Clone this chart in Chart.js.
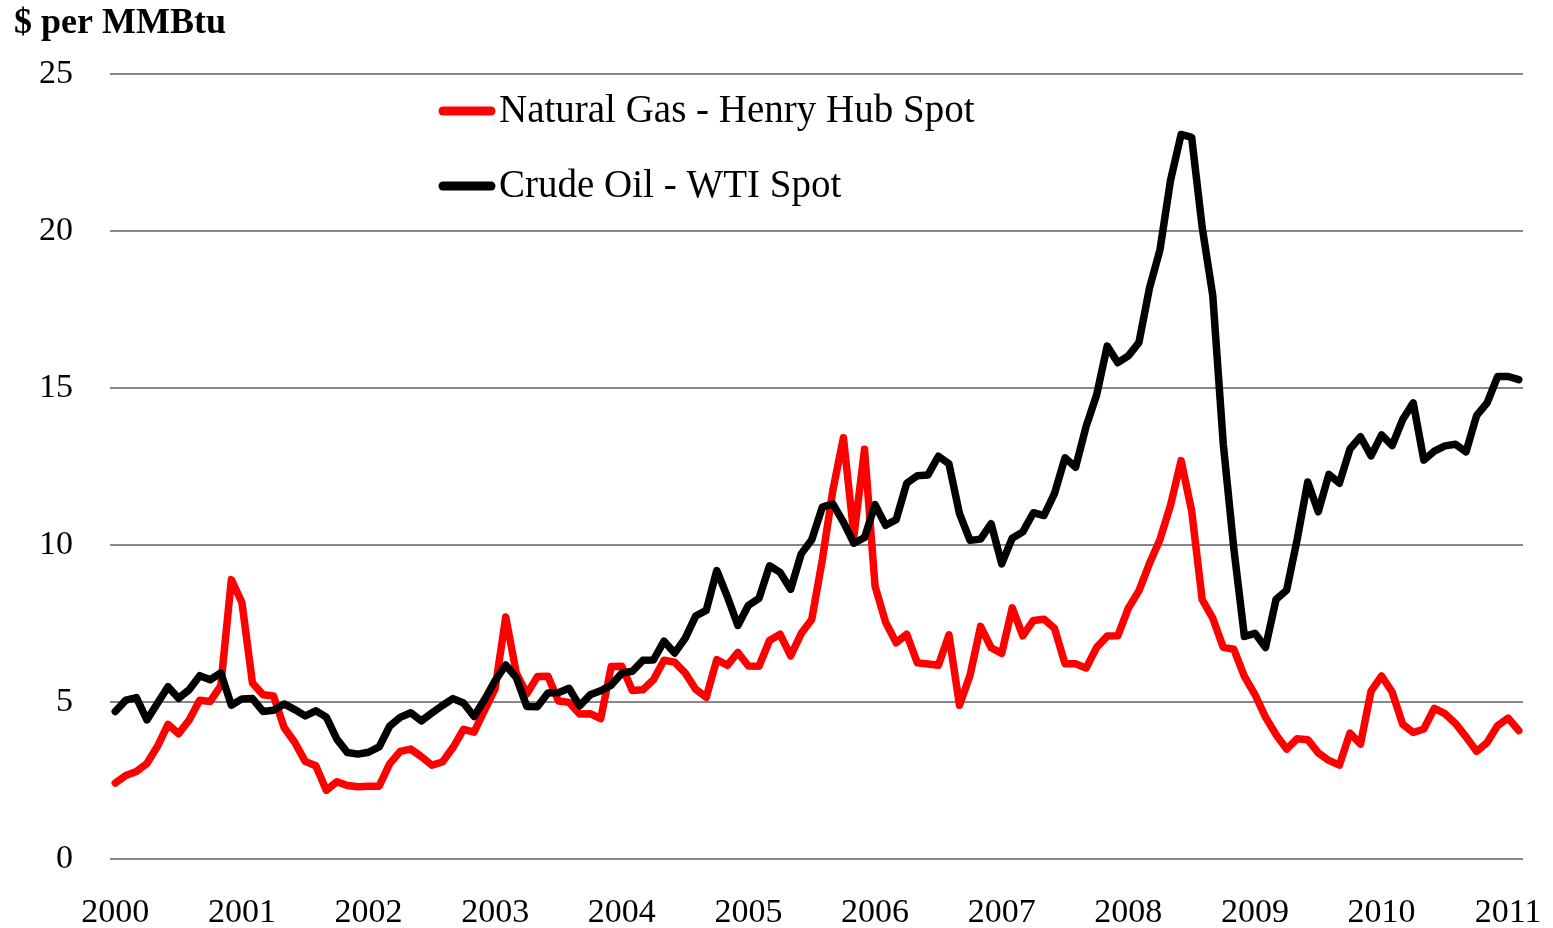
<!DOCTYPE html>
<html>
<head>
<meta charset="utf-8">
<title>Natural gas vs crude oil, $ per MMBtu</title>
<script src="https://cdn.jsdelivr.net/npm/chart.js@4.4.0/dist/chart.umd.min.js"></script>
<style>
  html, body { margin: 0; padding: 0; background: #fff; }
  #wrap { width: 1553px; height: 928px; }
</style>
</head>
<body>
<div id="wrap"><canvas id="priceChart" width="1553" height="928"></canvas></div>
<script>
// year labels on the x axis (one tick every 12 months)
const yearLabels = ['2000', '2001', '2002', '2003', '2004', '2005', '2006', '2007', '2008', '2009', '2010', '2011'];

// monthly values, Jan 2000 .. Feb 2011, $ per MMBtu
const gasPrices = [
  2.42, 2.66, 2.79, 3.04, 3.59, 4.29, 3.99, 4.43, 5.06, 5.02, 5.52, 8.90,
  8.17, 5.61, 5.23, 5.19, 4.19, 3.72, 3.11, 2.97, 2.19, 2.46, 2.34, 2.30,
  2.32, 2.32, 3.03, 3.43, 3.50, 3.26, 2.99, 3.09, 3.55, 4.13, 4.04, 4.74,
  5.43, 7.71, 5.93, 5.26, 5.81, 5.82, 5.03, 4.99, 4.62, 4.63, 4.47, 6.13,
  6.14, 5.37, 5.39, 5.71, 6.33, 6.27, 5.93, 5.41, 5.15, 6.35, 6.17, 6.58,
  6.15, 6.14, 6.96, 7.16, 6.47, 7.18, 7.63, 9.53, 11.75, 13.42, 10.30, 13.05,
  8.69, 7.54, 6.89, 7.16, 6.25, 6.21, 6.17, 7.14, 4.90, 5.85, 7.41, 6.73,
  6.55, 8.00, 7.11, 7.60, 7.64, 7.35, 6.22, 6.22, 6.08, 6.74, 7.10, 7.11,
  7.99, 8.54, 9.41, 10.18, 11.27, 12.69, 11.09, 8.26, 7.67, 6.74, 6.68, 5.82,
  5.24, 4.52, 3.96, 3.50, 3.83, 3.80, 3.38, 3.14, 2.99, 4.01, 3.66, 5.35,
  5.83, 5.32, 4.29, 4.03, 4.14, 4.80, 4.63, 4.32, 3.89, 3.43, 3.71, 4.25,
  4.49, 4.09
];

const oilPrices = [
  4.70, 5.06, 5.14, 4.43, 4.96, 5.49, 5.12, 5.39, 5.84, 5.71, 5.93, 4.90,
  5.10, 5.11, 4.70, 4.74, 4.94, 4.76, 4.56, 4.72, 4.52, 3.82, 3.39, 3.34,
  3.40, 3.57, 4.23, 4.51, 4.66, 4.40, 4.65, 4.89, 5.11, 4.97, 4.54, 5.08,
  5.68, 6.18, 5.78, 4.86, 4.85, 5.29, 5.30, 5.44, 4.88, 5.23, 5.36, 5.54,
  5.92, 5.98, 6.33, 6.34, 6.94, 6.56, 7.03, 7.74, 7.92, 9.19, 8.36, 7.44,
  8.08, 8.30, 9.34, 9.13, 8.59, 9.72, 10.17, 11.21, 11.31, 10.73, 10.06, 10.24,
  11.29, 10.63, 10.81, 11.97, 12.21, 12.23, 12.83, 12.59, 11.00, 10.15, 10.19, 10.68,
  9.40, 10.22, 10.42, 11.03, 10.94, 11.64, 12.78, 12.48, 13.78, 14.79, 16.34, 15.81,
  16.03, 16.45, 18.18, 19.41, 21.62, 23.08, 22.99, 20.12, 17.95, 13.21, 9.88, 7.09,
  7.19, 6.74, 8.27, 8.56, 10.18, 12.01, 11.06, 12.25, 11.97, 13.06, 13.45, 12.84,
  13.51, 13.17, 14.00, 14.53, 12.71, 12.99, 13.16, 13.21, 12.97, 14.12, 14.53, 15.37,
  15.37, 15.27
];

const yTicks = [0, 5, 10, 15, 20, 25];

const serif = '"Liberation Serif", "Times New Roman", serif';

// legend drawn inside the plot, two rows
const insideLegend = {
  id: 'insideLegend',
  afterDatasetsDraw(chart) {
    const ctx = chart.ctx;
    chart.data.datasets.forEach((ds, i) => {
      const y = 111 + i * 75;
      ctx.save();
      ctx.strokeStyle = ds.borderColor;
      ctx.lineWidth = 9;
      ctx.lineCap = 'round';
      ctx.beginPath();
      ctx.moveTo(443, y);
      ctx.lineTo(491, y);
      ctx.stroke();
      ctx.fillStyle = '#000';
      ctx.font = '39px ' + serif;
      ctx.textBaseline = 'middle';
      ctx.fillText(ds.label, 499, y + 1);
      ctx.restore();
    });
  }
};

const ctx = document.getElementById('priceChart').getContext('2d');

new Chart(ctx, {
  type: 'line',
  data: {
    datasets: [
      {
        label: 'Natural Gas - Henry Hub Spot',
        data: gasPrices.map((v, i) => ({ x: i, y: v })),
        borderColor: '#ff0000',
        borderWidth: 7.5,
        borderJoinStyle: 'round',
        borderCapStyle: 'round',
        pointRadius: 0,
        tension: 0,
        order: 1
      },
      {
        label: 'Crude Oil - WTI Spot',
        data: oilPrices.map((v, i) => ({ x: i, y: v })),
        borderColor: '#000000',
        borderWidth: 7.5,
        borderJoinStyle: 'round',
        borderCapStyle: 'round',
        pointRadius: 0,
        tension: 0,
        order: 0
      }
    ]
  },
  options: {
    responsive: false,
    animation: false,
    layout: { padding: { left: 14, right: 30, top: 0, bottom: 0 } },
    plugins: {
      legend: { display: false },
      tooltip: { enabled: false },
      title: {
        display: true,
        text: '$ per MMBtu',
        align: 'start',
        color: '#000',
        font: { family: serif, size: 36, weight: 'bold' },
        padding: { top: 2, bottom: 29 }
      }
    },
    scales: {
      x: {
        type: 'linear',
        min: -0.5,
        max: 133.4,
        grid: { display: false },
        border: { display: false },
        afterBuildTicks: scale => {
          scale.ticks = yearLabels.map((_, i) => ({ value: i * 12 }));
        },
        afterFit: scale => {
          scale.height = 69;
          scale.paddingLeft = 0;
          scale.paddingRight = 0;
        },
        ticks: {
          autoSkip: false,
          maxRotation: 0,
          padding: 26,
          color: '#000',
          font: { family: serif, size: 34 },
          callback: value => yearLabels[Math.round(value / 12)]
        }
      },
      y: {
        min: 0,
        max: 25,
        grid: { color: '#878787', lineWidth: 2, drawTicks: false },
        border: { display: false },
        afterBuildTicks: scale => {
          scale.ticks = yTicks.map(v => ({ value: v }));
        },
        afterFit: scale => {
          scale.width = 96;
        },
        ticks: {
          padding: 37,
          color: '#000',
          font: { family: serif, size: 34 }
        }
      }
    }
  },
  plugins: [insideLegend]
});
</script>
</body>
</html>
